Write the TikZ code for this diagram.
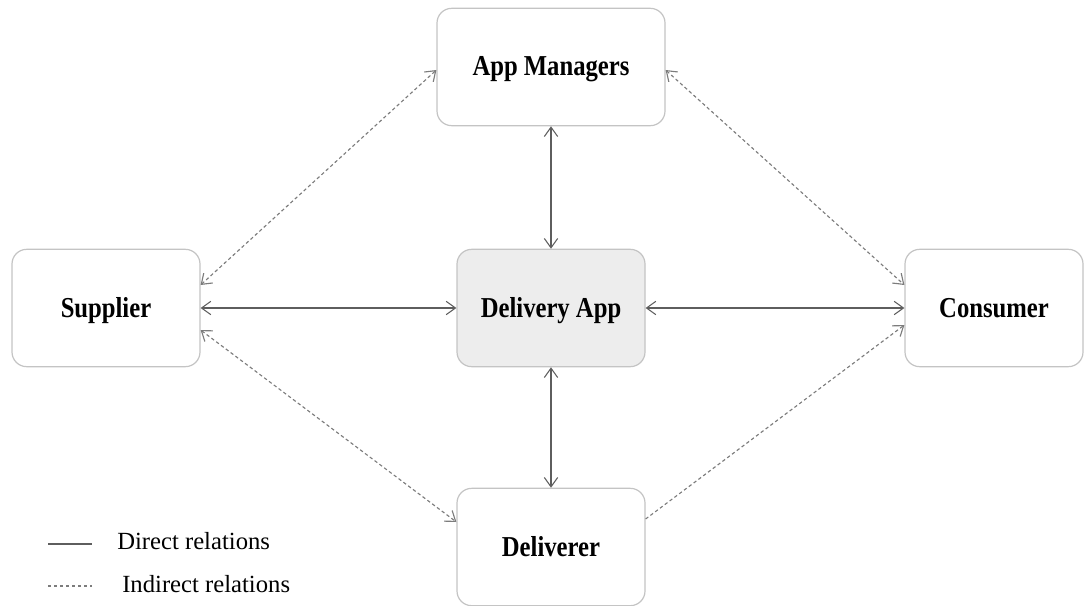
\documentclass[tikz,border=0pt]{standalone}
\usepackage{fontspec}
\setmainfont{Liberation Serif}
\usetikzlibrary{arrows.meta,calc}
\definecolor{boxline}{HTML}{C4C4C4}
\definecolor{appfill}{HTML}{EDEDED}
\definecolor{solidarr}{HTML}{5E5E5E}
\definecolor{dasharr}{HTML}{7C7C7C}
\newcommand{\tallbf}[1]{\scalebox{1}[1.17]{#1}}
\tikzset{
  ent/.style={draw=boxline, line width=0.9pt, rounded corners=11pt, fill=white,
    minimum height=88pt, font=\fontsize{18.5}{22}\selectfont\bfseries, inner sep=0pt,
    text height=13.5pt, text depth=0pt},
  direct/.style={draw=solidarr, line width=0.8pt, {Straight Barb[length=7pt,width=10pt]}-{Straight Barb[length=7pt,width=10pt]}},
  indirect/.style={draw=dasharr, line width=0.85pt, dash pattern=on 2.5pt off 2pt},
  legtext/.style={anchor=west, font=\fontsize{18.5}{22}\selectfont, inner sep=0pt},
}
\begin{document}
\begin{tikzpicture}[x=0.75pt,y=-0.75pt]
\useasboundingbox (0,0) rectangle (1084,606);
\node[ent, minimum width=171pt] (am) at (551,67) {\tallbf{App Managers}};
\node[ent, minimum width=141pt] (sup) at (106,308) {\tallbf{Supplier}};
\node[ent, minimum width=141pt, fill=appfill] (app) at (551,308) {\tallbf{Delivery App}};
\node[ent, minimum width=133.5pt] (con) at (994,308) {\tallbf{Consumer}};
\node[ent, minimum width=141pt] (del) at (551,547) {\tallbf{Deliverer}};

\draw[direct] (sup.east) -- (app.west);
\draw[direct] (app.east) -- (con.west);
\draw[direct] (am.south) -- (app.north);
\draw[direct] (app.south) -- (del.north);

\coordinate (supA) at ($(sup.east)+(0,-23)$);
\coordinate (supB) at ($(sup.east)+(0,22)$);
\coordinate (conA) at ($(con.west)+(0,-23)$);
\coordinate (conB) at ($(con.west)+(0,17)$);
\coordinate (delA) at ($(del.west)+(0,-25)$);
\coordinate (delB) at ($(del.east)+(0,-28)$);
\coordinate (amA) at ($(am.west)+(0,3)$);
\coordinate (amB) at ($(am.east)+(0,3)$);

\draw[indirect, {Straight Barb[length=7pt,width=10pt]}-{Straight Barb[length=7pt,width=10pt]}] (supA) -- (amA);
\draw[indirect, {Straight Barb[length=7pt,width=10pt]}-{Straight Barb[length=7pt,width=10pt]}] (amB) -- (conA);
\draw[indirect, {Straight Barb[length=7pt,width=10pt]}-{Straight Barb[length=7pt,width=10pt]}] (supB) -- (delA);
\draw[indirect, -{Straight Barb[length=7pt,width=10pt]}] (delB) -- (conB);

\coordinate (l1a) at (48,544);
\coordinate (l1b) at (92,544);
\coordinate (l2a) at (48,586);
\coordinate (l2b) at (92,586);
\draw[draw=solidarr, line width=0.8pt] (l1a) -- (l1b);
\draw[indirect] (l2a) -- (l2b);
\node[legtext] (t1) at (117,541) {Direct relations};
\node[legtext] (t2) at (122,584) {Indirect relations};
\end{tikzpicture}
\end{document}
